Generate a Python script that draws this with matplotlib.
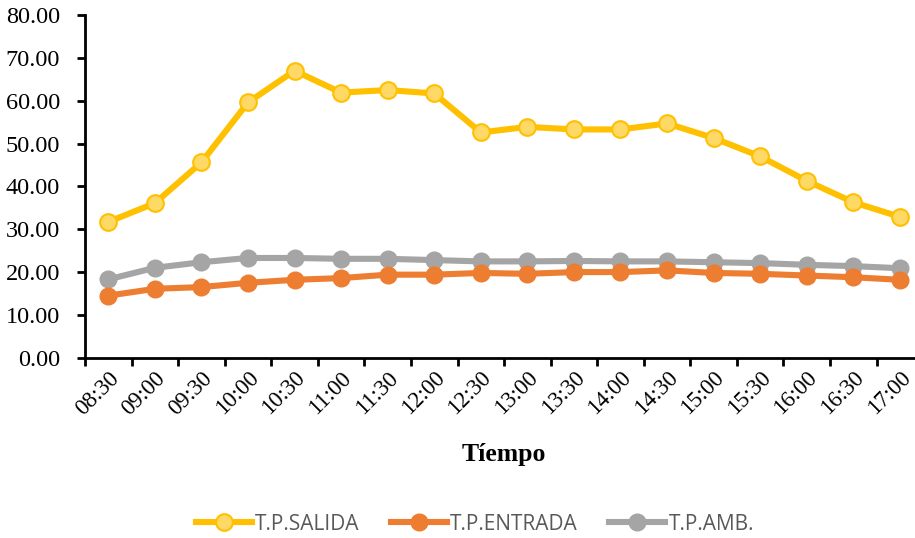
import numpy as np
import matplotlib.pyplot as plt
from matplotlib.ticker import FormatStrFormatter, FixedLocator

horas = ["08:30", "09:00", "09:30", "10:00", "10:30", "11:00", "11:30", "12:00", "12:30",
         "13:00", "13:30", "14:00", "14:30", "15:00", "15:30", "16:00", "16:30", "17:00"]

tp_salida = [31.7, 36.1, 45.6, 59.6, 67.0, 61.9, 62.5, 61.7, 52.6,
             53.9, 53.3, 53.3, 54.7, 51.3, 47.0, 41.3, 36.3, 32.9]
tp_entrada = [14.5, 16.1, 16.5, 17.5, 18.2, 18.6, 19.4, 19.4, 19.8,
              19.6, 20.0, 20.0, 20.4, 19.8, 19.6, 19.2, 18.8, 18.2]
tp_amb = [18.3, 21.0, 22.3, 23.3, 23.3, 23.1, 23.1, 22.8, 22.5,
          22.5, 22.6, 22.5, 22.5, 22.3, 22.1, 21.7, 21.4, 20.9]

serif = "Liberation Serif"

fig = plt.figure(figsize=(9.15, 5.38), dpi=100)
ax = fig.add_axes([0.0929, 0.335, 0.916, 0.637])

x = np.arange(len(horas))
ax.plot(x, tp_salida, color="#FFC000", lw=4.4, marker="o", ms=12,
        mfc="#FFD966", mec="#FFC000", mew=1.5, label="T.P.SALIDA", zorder=3)
ax.plot(x, tp_entrada, color="#ED7D31", lw=4.4, marker="o", ms=12,
        mfc="#ED7D31", mec="#ED7D31", label="T.P.ENTRADA", zorder=3)
ax.plot(x, tp_amb, color="#A5A5A5", lw=4.4, marker="o", ms=12,
        mfc="#A5A5A5", mec="#A5A5A5", label="T.P.AMB.", zorder=2)

ax.set_xlim(-0.5, len(horas) - 0.5)
ax.set_ylim(0, 80)
ax.set_yticks(np.arange(0, 81, 10))
ax.yaxis.set_major_formatter(FormatStrFormatter("%.2f"))

# ticks between categories, labels under categories
ax.set_xticks(x)
ax.set_xticklabels(horas, rotation=45, ha="right", rotation_mode="anchor",
                   fontfamily=serif, fontsize=16.5)
ax.tick_params(axis="x", which="major", length=0, pad=7)
ax.xaxis.set_minor_locator(FixedLocator(np.arange(-0.5, len(horas), 1)))
ax.tick_params(axis="x", which="minor", length=6, width=2, direction="out")
ax.tick_params(axis="y", length=6, width=2, direction="out", pad=12)
for lab in ax.get_yticklabels():
    lab.set_fontfamily(serif)
    lab.set_fontsize(17.5)

for s in ["top", "right"]:
    ax.spines[s].set_visible(False)
for s in ["left", "bottom"]:
    ax.spines[s].set_linewidth(2)

ax.set_xlabel("Tíempo", fontfamily=serif, fontsize=18.5, fontweight="bold", labelpad=17)

leg = fig.legend(loc="center", bbox_to_anchor=(0.519, 0.026), ncol=3, frameon=False,
                 prop={"family": "Open Sans", "size": 15}, handlelength=2.7,
                 columnspacing=1.5, handletextpad=0.15)
for t in leg.get_texts():
    t.set_color("#595959")

fig.savefig("out.png", dpi=100)
